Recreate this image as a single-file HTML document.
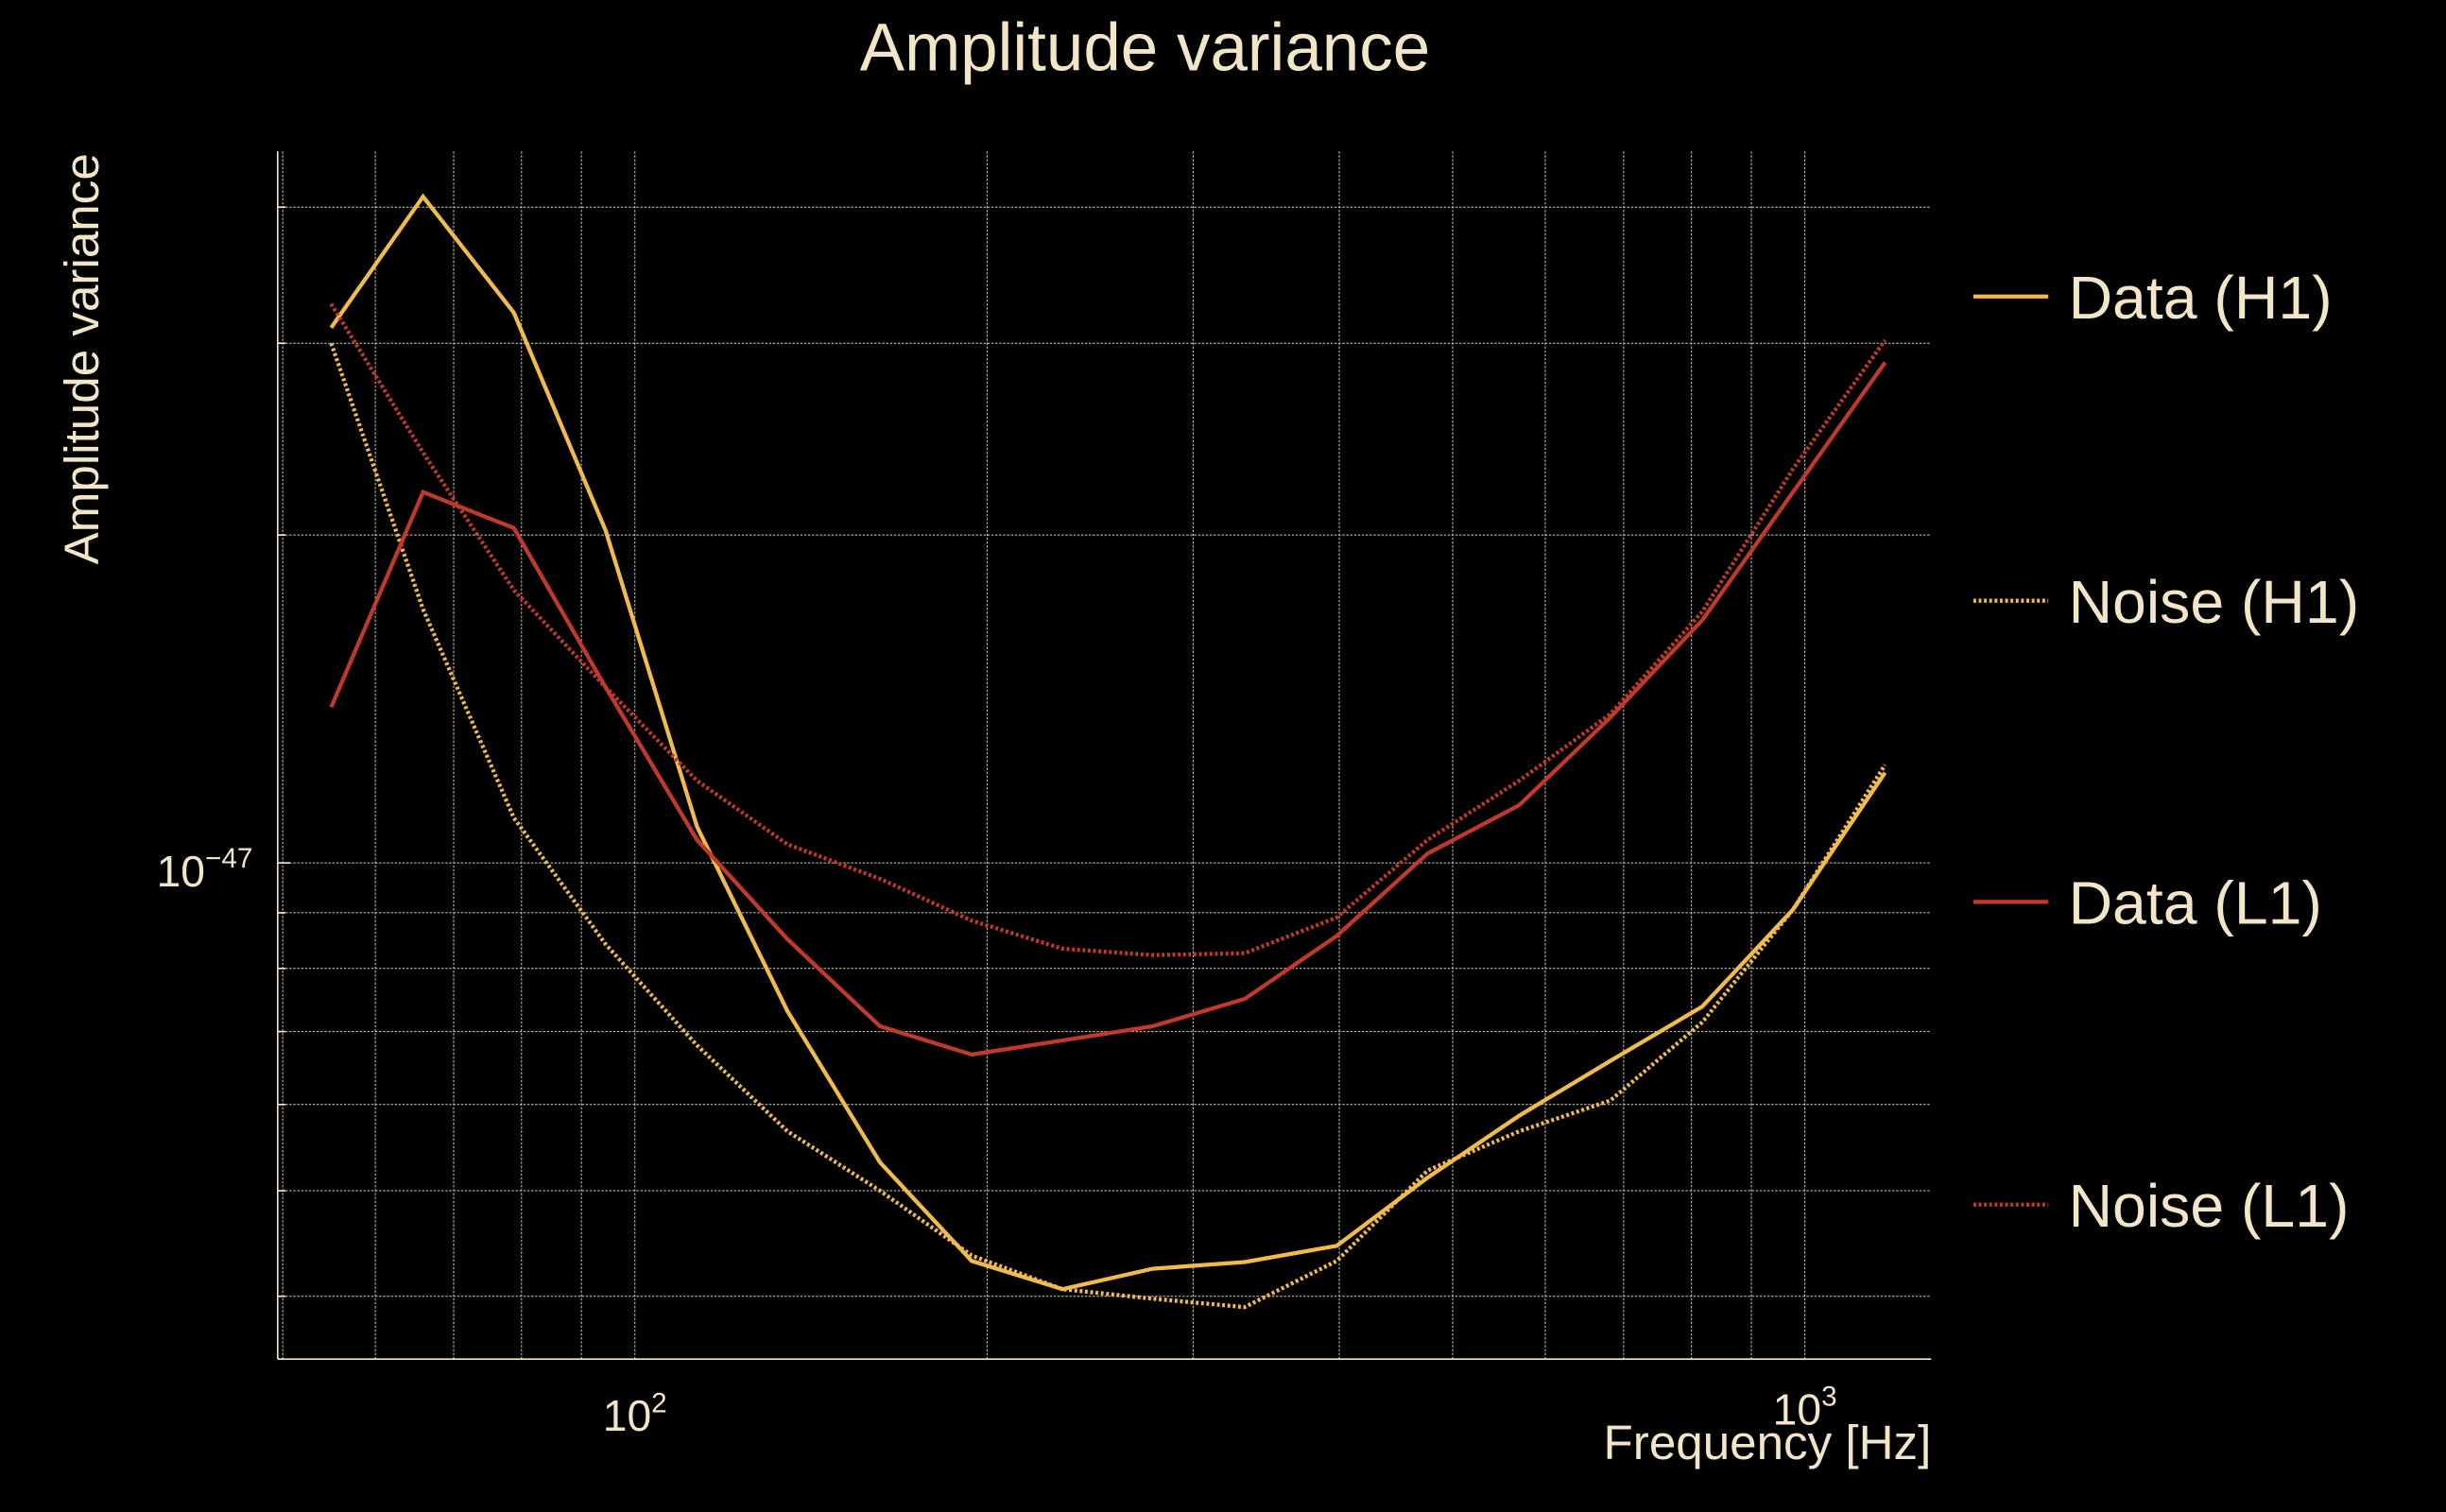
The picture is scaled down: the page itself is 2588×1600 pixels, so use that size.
<!DOCTYPE html>
<html><head><meta charset="utf-8"><style>
html,body{margin:0;padding:0;background:#000;}
svg{display:block;}
text{font-family:"Liberation Sans",sans-serif;fill:#f3e6c8;}
</style></head><body>
<svg id="chart" width="2588" height="1600" viewBox="0 0 1568 969" preserveAspectRatio="none" xmlns="http://www.w3.org/2000/svg">
<rect width="1568" height="969" fill="#000"/>
<g id="grid"></g>
<g id="series"></g>
<line x1="178" y1="97" x2="178" y2="871" stroke="#f3e6c8" stroke-width="1"/>
<line x1="178" y1="871" x2="1238" y2="871" stroke="#f3e6c8" stroke-width="1"/>
<text x="734" y="45" font-size="43" text-anchor="middle">Amplitude variance</text>
<text transform="translate(63,230) rotate(-90)" font-size="31" text-anchor="middle">Amplitude variance</text>
<text x="1238" y="935" font-size="31" text-anchor="end">Frequency [Hz]</text>
<text x="407" y="917" font-size="28" text-anchor="middle">10<tspan dy="-12" font-size="18">2</tspan></text>
<text x="1157" y="913" font-size="28" text-anchor="middle">10<tspan dy="-12" font-size="18">3</tspan></text>
<text x="162" y="568" font-size="28" text-anchor="end">10<tspan dy="-12" font-size="18">−47</tspan></text>
<g id="legend"></g>
</svg>
<script>
const freqs=[55.0,65.9,78.8,94.4,113,135,162,194,232,277,332,398,476,570,682,817,977,1171];
const dataH1=[31.0,40.9,32.0,20.2,10.8,7.31,5.31,4.31,4.06,4.24,4.30,4.45,5.14,5.86,6.58,7.38,9.06,12.1];
const noiseH1=[30.0,17.1,11.0,8.42,6.80,5.67,5.00,4.36,4.06,3.98,3.91,4.31,5.22,5.67,6.05,7.14,9.06,12.3];
const dataL1=[13.9,21.9,20.3,14.5,10.5,8.51,7.08,6.67,6.87,7.08,7.50,8.57,10.2,11.3,13.6,16.7,21.9,28.8];
const noiseL1=[32.6,23.8,17.8,14.5,11.9,10.4,9.67,8.85,8.34,8.23,8.26,8.91,10.5,11.9,13.7,17.0,23.0,30.2];
const xGridVals=[50,60,70,80,90,100,200,300,400,500,600,700,800,900,1000];
const yGridVals=[4,5,6,7,8,9,10,20,30,40]; // units of 1e-48
const seriesNames=["Data (H1)","Noise (H1)","Data (L1)","Noise (L1)"];

const NS="http://www.w3.org/2000/svg";
function xScale(f){return 407+750*(Math.log10(f)-2);}
function yScale(v){return 553-698*(Math.log10(v)-1);}
const grid=document.getElementById('grid');
xGridVals.forEach(f=>{
  const l=document.createElementNS(NS,'line');
  const x=xScale(f);
  l.setAttribute('x1',x);l.setAttribute('x2',x);l.setAttribute('y1',97);l.setAttribute('y2',871);
  l.setAttribute('stroke','#d8d0bc');l.setAttribute('stroke-width','0.6');l.setAttribute('stroke-dasharray','1.5 1');
  
  
  grid.appendChild(l);
});
yGridVals.forEach(v=>{
  const l=document.createElementNS(NS,'line');
  const y=yScale(v);
  l.setAttribute('x1',178);l.setAttribute('x2',1238);l.setAttribute('y1',y);l.setAttribute('y2',y);
  l.setAttribute('stroke','#d8d0bc');l.setAttribute('stroke-width','0.6');l.setAttribute('stroke-dasharray','1.5 1');
  
  
  grid.appendChild(l);
  const t=document.createElementNS(NS,'line');
  t.setAttribute('x1',178);t.setAttribute('x2',v===10?186:183);t.setAttribute('y1',y);t.setAttribute('y2',y);
  t.setAttribute('stroke','#f3e6c8');t.setAttribute('stroke-width','1');
  
  
  grid.appendChild(t);
});
const styles=[
 {vals:dataH1,color:'#f0bb4a',dash:null,name:'series-data-h1'},
 {vals:noiseH1,color:'#f0bb4a',dash:'1.8 1.6',name:'series-noise-h1'},
 {vals:dataL1,color:'#c0392b',dash:null,name:'series-data-l1'},
 {vals:noiseL1,color:'#c0392b',dash:'1.8 1.6',name:'series-noise-l1'}
];
const sg=document.getElementById('series');
styles.forEach(s=>{
  const p=document.createElementNS(NS,'path');
  p.setAttribute('d',s.vals.map((v,i)=>(i?'L':'M')+xScale(freqs[i]).toFixed(1)+','+yScale(v).toFixed(1)).join(''));
  p.setAttribute('fill','none');p.setAttribute('stroke',s.color);p.setAttribute('stroke-width','2.6');
  if(s.dash)p.setAttribute('stroke-dasharray',s.dash);
  
  
  sg.appendChild(p);
});
const lg=document.getElementById('legend');
const ly=[190,385,578,772];
styles.forEach((s,i)=>{
  const l=document.createElementNS(NS,'line');
  l.setAttribute('x1',1265);l.setAttribute('x2',1313);l.setAttribute('y1',ly[i]);l.setAttribute('y2',ly[i]);
  l.setAttribute('stroke',s.color);l.setAttribute('stroke-width','2.6');
  if(s.dash)l.setAttribute('stroke-dasharray',s.dash);
  
  
  lg.appendChild(l);
  const t=document.createElementNS(NS,'text');
  t.setAttribute('x',1326);t.setAttribute('y',ly[i]+14);t.setAttribute('font-size','39');
  t.textContent=seriesNames[i];
  
  
  lg.appendChild(t);
});
</script>
</body></html>
